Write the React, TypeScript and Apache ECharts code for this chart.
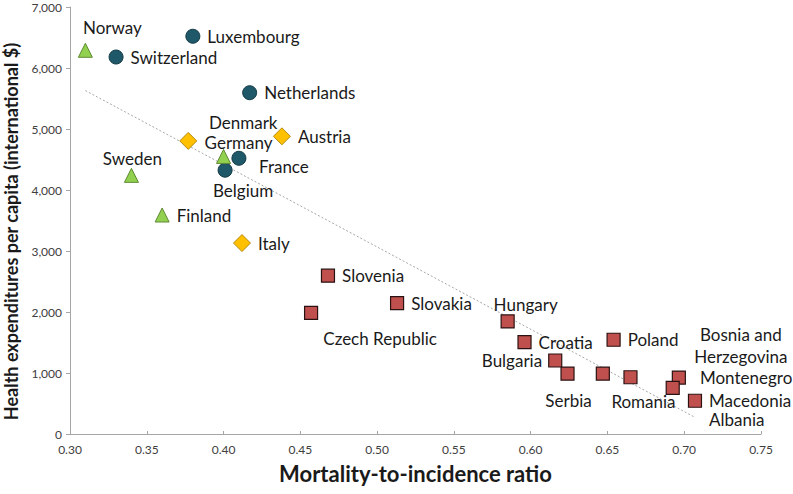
import React, { useEffect, useRef } from "react";
import * as echarts from "echarts";

// ---- data ----
const circleNames = ["Luxembourg", "Switzerland", "Netherlands", "France", "Belgium"];
const circleX = [0.38, 0.33, 0.417, 0.41, 0.401];
const circleY = [6520, 6180, 5595, 4520, 4325];

const triangleNames = ["Norway", "Germany", "Sweden", "Finland"];
const triangleX = [0.31, 0.4, 0.34, 0.36];
const triangleY = [6290, 4550, 4240, 3590];

const diamondNames = ["Denmark", "Austria", "Italy"];
const diamondX = [0.377, 0.438, 0.412];
const diamondY = [4805, 4880, 3130];

const squareNames = [
  "Slovenia", "Czech Republic", "Slovakia", "Hungary", "Croatia", "Poland", "Bulgaria",
  "Serbia", "Bosnia and\nHerzegovina", "Romania", "Montenegro", "Albania", "Macedonia",
];
const squareX = [0.468, 0.457, 0.513, 0.585, 0.596, 0.654, 0.616, 0.624, 0.647, 0.665, 0.6965, 0.6925, 0.707];
const squareY = [2595, 1985, 2145, 1845, 1505, 1545, 1205, 990, 990, 930, 925, 755, 545];

const trendX = [0.31, 0.7065];
const trendY = [5630, 280];

const xTicks = { min: 0.3, max: 0.75, interval: 0.05 };
const yTicks = { min: 0, max: 7000, interval: 1000 };

// ---- label placement (style, not data) ----
type LP = { pos?: string; dist?: number; dx?: number; dy?: number };
const labelPlace: Record<string, LP> = {
  Norway: { dx: 27, dy: -23 },
  Denmark: { dx: 55, dy: -18 },
  Germany: { dx: 15, dy: -14 },
  Sweden: { dx: 1, dy: -17 },
  France: { dx: 45, dy: 8 },
  Belgium: { dx: 18, dy: 20 },
  "Czech Republic": { dx: 69, dy: 26 },
  Hungary: { dx: 18, dy: -17 },
  Bulgaria: { pos: "left", dist: 6 },
  Serbia: { dx: 1, dy: 27 },
  Romania: { dx: 13, dy: 24 },
  "Bosnia and\nHerzegovina": { dx: 138, dy: -28 },
  Albania: { dx: 64, dy: 32 },
  Montenegro: { pos: "right", dist: 14 },
};

const FONT = "Lato";

function makeData(names: string[], xs: number[], ys: number[]) {
  return names.map((n, i) => {
    const lp = labelPlace[n] || { pos: "right", dist: 7 };
    const label: any = { show: true };
    if (lp.pos) {
      label.position = lp.pos;
      label.distance = lp.dist ?? 7;
    } else {
      label.position = "inside";
      label.offset = [lp.dx, lp.dy];
      label.align = "center";
      label.verticalAlign = "middle";
    }
    return { name: n, value: [xs[i], ys[i]], label };
  });
}

const labelBase = {
  show: true,
  formatter: "{b}",
  color: "#1a1a1a",
  fontFamily: FONT,
  fontSize: 17,
  lineHeight: 22,
};

export default function App() {
  const ref = useRef<HTMLDivElement>(null);
  useEffect(() => {
    if (!ref.current) return;
    const chart = echarts.init(ref.current, null, { renderer: "svg" });
    chart.setOption({
      animation: false,
      backgroundColor: "#ffffff",
      grid: {
        left: 70,
        top: 7,
        width: 691,
        height: 427,
        containLabel: false,
        outerBoundsMode: "none",
      },
      xAxis: {
        type: "value",
        min: xTicks.min,
        max: xTicks.max,
        interval: xTicks.interval,
        name: "Mortality-to-incidence ratio",
        nameLocation: "middle",
        nameGap: 28,
        nameTextStyle: { fontFamily: FONT, fontSize: 22, fontWeight: "bold", color: "#1a1a1a" },
        axisLine: { show: true, lineStyle: { color: "#a6a6a6", width: 1 } },
        axisTick: { show: true, inside: true, length: 3, lineStyle: { color: "#a6a6a6" } },
        axisLabel: {
          formatter: (v: number) => v.toFixed(2),
          fontFamily: FONT,
          fontSize: 12,
          color: "#404040",
          margin: 9,
        },
        splitLine: { show: false },
      },
      yAxis: {
        type: "value",
        min: yTicks.min,
        max: yTicks.max,
        interval: yTicks.interval,
        name: "Health expenditures per capita (international $)",
        nameLocation: "middle",
        nameGap: 50,
        nameTextStyle: {
          fontFamily: FONT,
          fontSize: 18,
          fontWeight: "bold",
          color: "#1a1a1a",
          padding: [0, 22, 0, 0],
        },
        axisLine: { show: true, lineStyle: { color: "#a6a6a6", width: 1 } },
        axisTick: { show: true, inside: false, length: 4, lineStyle: { color: "#a6a6a6" } },
        axisLabel: {
          formatter: (v: number) => v.toLocaleString("en-US"),
          fontFamily: FONT,
          fontSize: 12,
          color: "#404040",
          margin: 8,
        },
        splitLine: { show: false },
      },
      series: [
        {
          type: "line",
          data: trendX.map((x, i) => [x, trendY[i]]),
          showSymbol: false,
          symbol: "none",
          lineStyle: { color: "#a6a6a6", width: 1, type: [2, 2] },
          silent: true,
          z: 1,
        },
        {
          type: "scatter",
          data: makeData(circleNames, circleX, circleY),
          symbol: "circle",
          symbolSize: 14,
          itemStyle: { color: "#1f5868", borderColor: "#133a45", borderWidth: 1, opacity: 1 },
          label: labelBase,
          z: 3,
        },
        {
          type: "scatter",
          data: makeData(triangleNames, triangleX, triangleY),
          symbol: "triangle",
          symbolSize: 14,
          itemStyle: { color: "#92d050", borderColor: "#5f8a32", borderWidth: 1, opacity: 1 },
          label: labelBase,
          z: 3,
        },
        {
          type: "scatter",
          data: makeData(diamondNames, diamondX, diamondY),
          symbol: "diamond",
          symbolSize: 17,
          itemStyle: { color: "#ffc000", borderColor: "#b58a10", borderWidth: 1, opacity: 1 },
          label: labelBase,
          z: 3,
        },
        {
          type: "scatter",
          data: makeData(squareNames, squareX, squareY),
          symbol: "rect",
          symbolSize: 13,
          itemStyle: { color: "#c0504d", borderColor: "#2b1212", borderWidth: 1.2, opacity: 1 },
          label: labelBase,
          z: 3,
        },
      ],
    });
    return () => chart.dispose();
  }, []);
  return (
    <div
      ref={ref}
      style={{ position: "absolute", left: 0, top: 0, width: 793, height: 494 }}
    />
  );
}
